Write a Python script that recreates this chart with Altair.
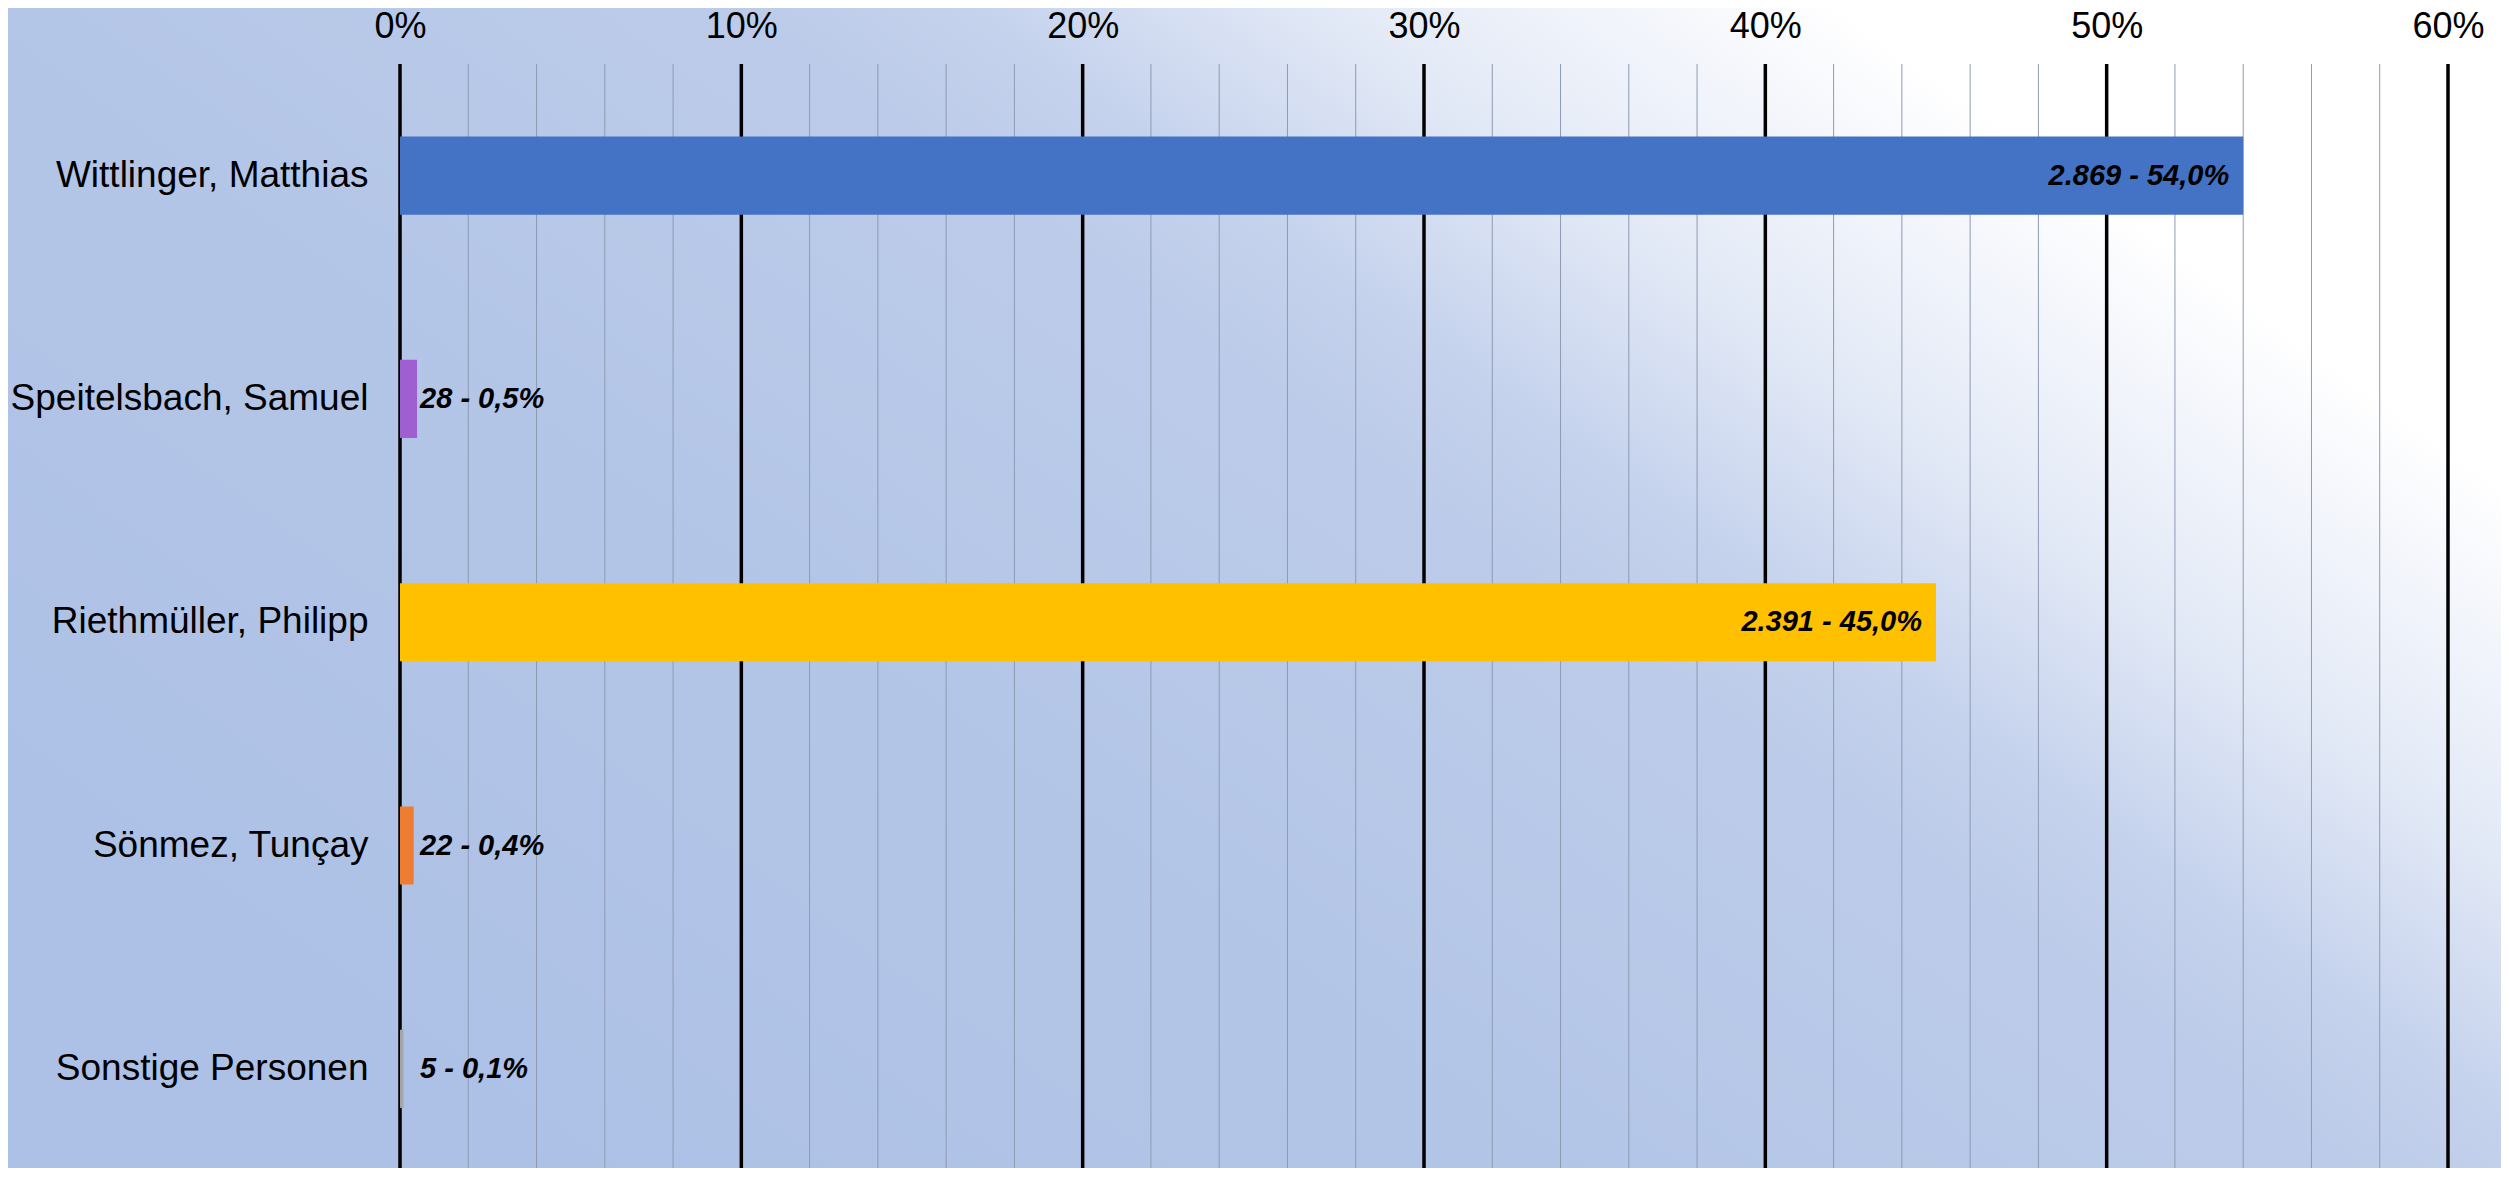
import altair as alt
import pandas as pd

names = ["Wittlinger, Matthias", "Speitelsbach, Samuel", "Riethmüller, Philipp",
         "Sönmez, Tunçay", "Sonstige Personen"]
votes = [2869, 28, 2391, 22, 5]
shares = [54.0, 0.5, 45.0, 0.4, 0.1]
labels = ["2.869 - 54,0%", "28 - 0,5%", "2.391 - 45,0%", "22 - 0,4%", "5 - 0,1%"]
colors = ["#4472c4", "#a05fd0", "#ffc000", "#ed7d31", "#a5a5a5"]
major_ticks = [0, 10, 20, 30, 40, 50, 60]
minor_ticks = [2, 4, 6, 8, 12, 14, 16, 18, 22, 24, 26, 28, 32, 34, 36, 38,
               42, 44, 46, 48, 52, 54, 56, 58]

W, H = 2048, 1104
FONT = "Liberation Sans"

df = pd.DataFrame({"name": names, "votes": votes, "share": shares, "label": labels})
major_df = pd.DataFrame({"t": major_ticks})
minor_df = pd.DataFrame({"t": minor_ticks})

xscale = alt.Scale(domain=[0, 60], nice=False, zero=True)
xaxis = alt.Axis(orient="top", values=major_ticks, labelExpr="datum.value + '%'",
                 title=None, domain=False, ticks=False, grid=False,
                 labelFontSize=36, labelFont=FONT, labelColor="black",
                 labelPadding=19, labelFlush=False, zindex=1)
yscale = alt.Scale(paddingInner=0.65, paddingOuter=0.297, align=0.547)
yaxis = alt.Axis(title=None, domain=False, ticks=False, grid=False,
                 labelFontSize=37, labelFont=FONT, labelColor="black",
                 labelPadding=32, labelLimit=600, zindex=1)

grad = alt.LinearGradient(
    gradient="linear", x1=0, y1=0.654, x2=1, y2=0,
    stops=[
        alt.GradientStop(color="#adc1e6", offset=0),
        alt.GradientStop(color="#b4c6e7", offset=0.30),
        alt.GradientStop(color="#bccbe9", offset=0.50),
        alt.GradientStop(color="#c3d1ec", offset=0.56),
        alt.GradientStop(color="#d2dcf1", offset=0.61),
        alt.GradientStop(color="#e2e9f6", offset=0.665),
        alt.GradientStop(color="#f5f7fc", offset=0.76),
        alt.GradientStop(color="#ffffff", offset=0.81),
        alt.GradientStop(color="#ffffff", offset=1),
    ],
)

bg = alt.Chart(pd.DataFrame({"k": [0]})).mark_rect(fill=grad).encode(
    x=alt.value(-400), x2=alt.value(2109), y=alt.value(-64), y2=alt.value(1117)
)

minor = alt.Chart(minor_df).mark_rule(color="#8e9ab2", strokeWidth=1).encode(
    x=alt.X("t:Q", scale=xscale, axis=xaxis),
    y=alt.value(0), y2=alt.value(H + 30),
)
major = alt.Chart(major_df).mark_rule(color="black", strokeWidth=3.5).encode(
    x=alt.X("t:Q", scale=xscale, axis=xaxis),
    y=alt.value(0), y2=alt.value(H + 30),
)

bars = alt.Chart(df).mark_bar().encode(
    x=alt.X("share:Q", scale=xscale, axis=xaxis),
    y=alt.Y("name:N", sort=names, scale=yscale, axis=yaxis),
    color=alt.Color("name:N", scale=alt.Scale(domain=names, range=colors), legend=None),
)

text_in = alt.Chart(df).transform_filter("datum.share >= 10").mark_text(
    align="right", baseline="middle", dx=-14, fontSize=29, font=FONT,
    fontStyle="italic", fontWeight="bold", color="black"
).encode(
    x=alt.X("share:Q", scale=xscale, axis=xaxis),
    y=alt.Y("name:N", sort=names, scale=yscale, axis=yaxis),
    text="label:N",
)

text_out = alt.Chart(df).transform_filter("datum.share < 10").transform_calculate(
    lx="max(datum.share, 0.5)"
).mark_text(
    align="left", baseline="middle", dx=3, fontSize=29, font=FONT,
    fontStyle="italic", fontWeight="bold", color="black"
).encode(
    x=alt.X("lx:Q", scale=xscale, axis=xaxis),
    y=alt.Y("name:N", sort=names, scale=yscale, axis=yaxis),
    text="label:N",
)

chart = alt.layer(bg, minor, major, bars, text_in, text_out).properties(
    width=W, height=H,
    autosize=alt.AutoSizeParams(type="none"),
    padding={"left": 392, "top": 56, "right": 53, "bottom": 0},
    background="#b0c2e6",
).configure_view(strokeWidth=0)

chart.save("out.html", embed_options={"renderer": "svg", "actions": False})
